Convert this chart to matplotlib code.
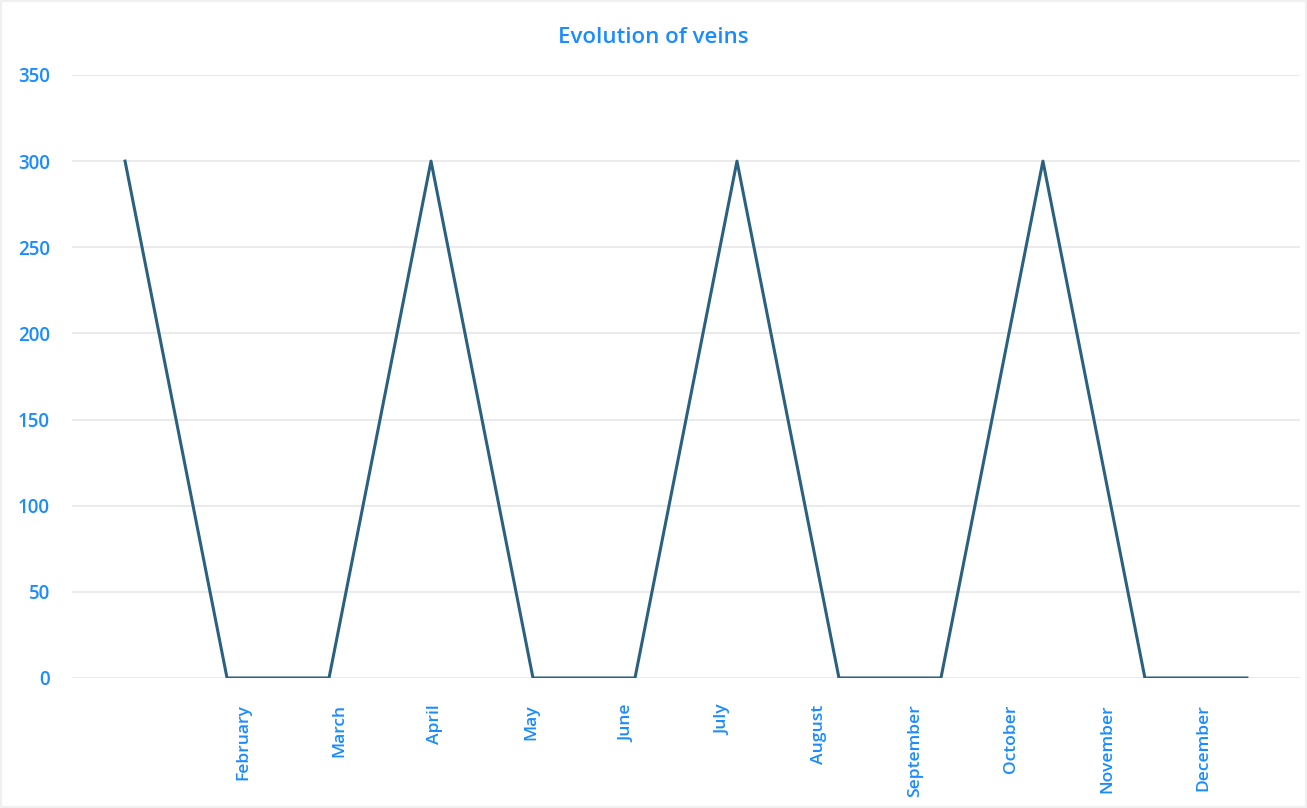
import numpy as np
import matplotlib.pyplot as plt
from matplotlib.patches import Rectangle

months = ['January', 'February', 'March', 'April', 'May', 'June', 'July',
          'August', 'September', 'October', 'November', 'December']
veins = [300, 0, 0, 300, 0, 0, 300, 0, 0, 300, 0, 0]

# the labels in the original are drawn on their own spacing (January is missing)
label_names = months[1:]
label_pos = np.linspace(1.16, 10.57, len(label_names))

blue = '#1a8cff'
line_color = '#2b6180'

plt.rcParams['font.family'] = ['Open Sans', 'DejaVu Sans']

fig = plt.figure(figsize=(13.07, 8.08), dpi=100)
ax = fig.add_axes([0.0551, 0.1609, 0.9395, 0.7463])

x = np.arange(len(months))
ax.plot(x, veins, color=line_color, linewidth=2.2)

ax.set_xlim(-0.52, 11.52)
ax.set_ylim(0, 350)
ax.set_yticks(np.arange(0, 351, 50))
ax.set_xticks(label_pos)
ax.set_xticklabels(label_names, rotation=90, va='top', ha='center')

for lbl in ax.get_xticklabels():
    lbl.set_color(blue)
    lbl.set_fontsize(12.6)
    lbl.set_fontweight('semibold')
for lbl in ax.get_yticklabels():
    lbl.set_color(blue)
    lbl.set_fontsize(13.5)
    lbl.set_fontweight('semibold')

ax.tick_params(axis='both', length=0)
ax.tick_params(axis='x', pad=19)
ax.tick_params(axis='y', pad=16)
ax.grid(axis='y', color='#ebebeb', linewidth=1.5)
ax.set_axisbelow(True)
for s in ax.spines.values():
    s.set_visible(False)

fig.text(0.5, 0.953, 'Evolution of veins', color=blue, fontsize=16,
         fontweight='semibold', ha='center', va='center')

fig.patches.append(Rectangle((0.001, 0.001), 0.998, 0.998, transform=fig.transFigure,
                             fill=False, edgecolor='#f0f0f0', linewidth=1.5))

plt.savefig('out.png', dpi=100)
